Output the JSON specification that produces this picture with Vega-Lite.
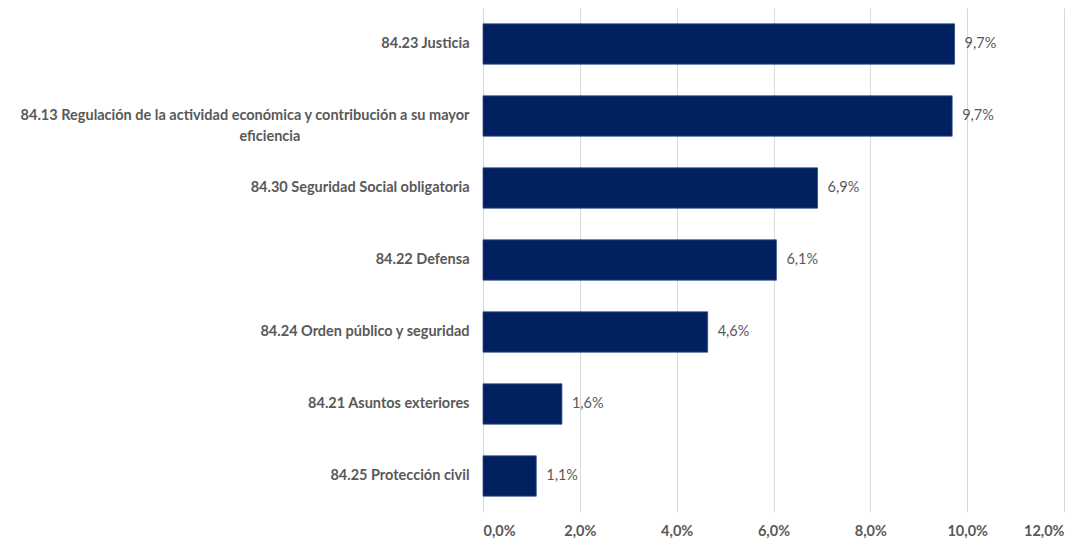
{
  "$schema": "https://vega.github.io/schema/vega-lite/v6.json",
  "width": 581,
  "height": 504,
  "autosize": {"type": "none"},
  "padding": {"left": 483, "top": 8, "right": 26, "bottom": 30},
  "background": "white",
  "config": {
    "view": {"stroke": null},
    "locale": {"number": {"decimal": ",", "thousands": ".", "grouping": [3], "currency": ["", " €"]}},
    "font": "Lato"
  },
  "data": {
    "values": [
      {"actividad": "84.23 Justicia", "valor": 0.0974},
      {"actividad": "84.13 Regulación de la actividad económica y contribución a su mayor|eficiencia~~~~~~~~~~~~~~~~~~~~~~~~~~~~~~~~~~~~~~~~~~~~~~~~", "valor": 0.0969},
      {"actividad": "84.30 Seguridad Social obligatoria", "valor": 0.0691},
      {"actividad": "84.22 Defensa", "valor": 0.0606},
      {"actividad": "84.24 Orden público y seguridad", "valor": 0.0464},
      {"actividad": "84.21 Asuntos exteriores", "valor": 0.0163},
      {"actividad": "84.25 Protección civil", "valor": 0.0110}
    ]
  },
  "encoding": {
    "y": {
      "field": "actividad",
      "type": "nominal",
      "sort": null,
      "scale": {"paddingInner": 0.44, "paddingOuter": 0.22},
      "axis": {
        "title": null,
        "domain": false,
        "ticks": false,
        "labelPadding": 14,
        "labelFont": "Lato",
        "labelFontSize": 14.5,
        "labelFontWeight": "bold",
        "labelColor": "#595959",
        "labelLimit": 0,
        "labelLineHeight": 21,
        "labelExpr": "split(replace(datum.label, /~/g, '\u00a0') + '\u2060', '|')"
      }
    },
    "x": {
      "field": "valor",
      "type": "quantitative",
      "scale": {"domain": [0, 0.12], "nice": false},
      "axis": {
        "title": null,
        "format": ".1%",
        "values": [0, 0.02, 0.04, 0.06, 0.08, 0.1, 0.12],
        "domain": false,
        "ticks": false,
        "grid": true,
        "gridColor": "#d9d9d9",
        "gridWidth": 1,
        "labelPadding": 12,
        "labelFont": "Lato",
        "labelFontSize": 14.5,
        "labelFontWeight": "bold",
        "labelColor": "#595959"
      }
    }
  },
  "layer": [
    {"mark": {"type": "bar", "color": "#002060", "stroke": "#2f4a80", "strokeWidth": 0.75}},
    {
      "mark": {"type": "text", "align": "left", "baseline": "middle", "dx": 10, "font": "Lato", "fontSize": 14.5, "color": "#595959"},
      "encoding": {"text": {"field": "valor", "type": "quantitative", "format": ".1%"}}
    }
  ]
}
